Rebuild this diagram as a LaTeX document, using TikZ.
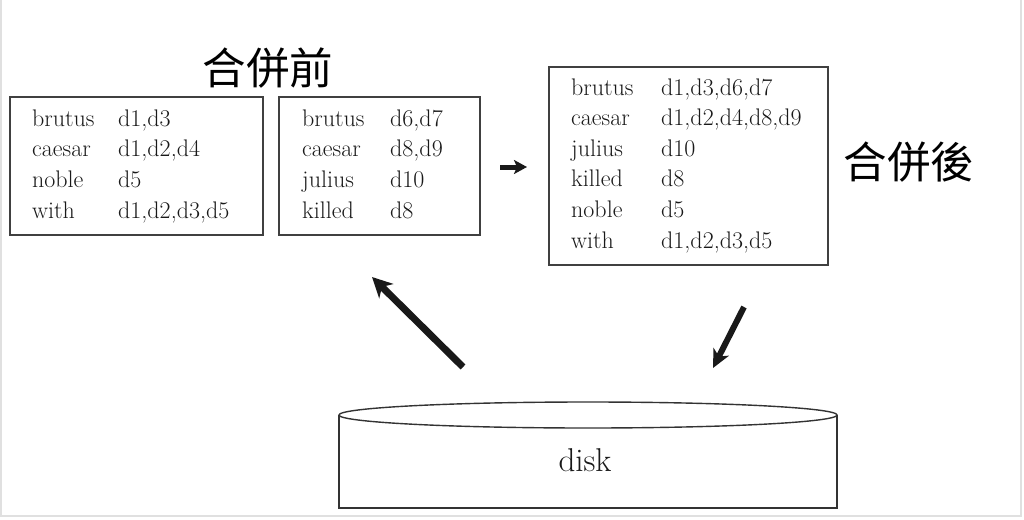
\documentclass[tikz,border=0pt]{standalone}
\usepackage{fontspec}
\newfontfamily\cjk{Noto Sans CJK TC}
\usetikzlibrary{arrows.meta}
\begin{document}
\begin{tikzpicture}[x=1pt,y=-1pt,
  box/.style={draw=black!75,line width=1.4pt},
  word/.style={anchor=base west,inner sep=0pt,font=\fontsize{24}{28}\selectfont,text=black!90},
  title/.style={font=\cjk\fontsize{43.5}{46}\selectfont,inner sep=0pt},
  bigarrow/.style={line width=7pt,black!90,-{Stealth[length=20pt,width=20pt,inset=6pt]}},
  smallarrow/.style={line width=5pt,black!90,-{Stealth[length=13pt,width=14pt,inset=3pt]}},
  frame/.style={draw=black!12,line width=2pt}]
\useasboundingbox (0,0) rectangle (1024,519);
\draw[frame] (1,0) -- (1,516) -- (1021,516) -- (1021,0);
% titles
\node[title] (before) at (268,68) {合併前};
\node[title] (after) at (909,162) {合併後};
% box 1
\node[box,minimum width=253pt,minimum height=138pt,inner sep=0pt] (b1) at (136.5,166) {};
\foreach \w/\d [count=\i] in {brutus/{d1,d3},caesar/{d1,d2,d4},noble/d5,with/{d1,d2,d3,d5}}
  {\node[word] (b1w\i) at (32,{126+30.7*(\i-1)}) {\w};
   \node[word] (b1d\i) at (118,{126+30.7*(\i-1)}) {\d};}
% box 2
\node[box,minimum width=201pt,minimum height=138pt,inner sep=0pt] (b2) at (379.5,166) {};
\foreach \w/\d [count=\i] in {brutus/{d6,d7},caesar/{d8,d9},julius/d10,killed/d8}
  {\node[word] (b2w\i) at (302,{126+30.7*(\i-1)}) {\w};
   \node[word] (b2d\i) at (390,{126+30.7*(\i-1)}) {\d};}
% box 3
\node[box,minimum width=279pt,minimum height=198pt,inner sep=0pt] (b3) at (688.5,166) {};
\foreach \w/\d [count=\i] in {brutus/{d1,d3,d6,d7},caesar/{d1,d2,d4,d8,d9},julius/d10,killed/d8,noble/d5,with/{d1,d2,d3,d5}}
  {\node[word] (b3w\i) at (571,{95+30.6*(\i-1)}) {\w};
   \node[word] (b3d\i) at (661,{95+30.6*(\i-1)}) {\d};}
% disk
\coordinate (dl) at (339,415);
\coordinate (dr) at (837,415);
\draw[line width=1.4pt,black!80] (dl) -- (339,508) -- (837,508) -- (dr);
\draw[line width=1.4pt,black!80] (588,415) ellipse [x radius=249pt,y radius=13pt];
\node[font=\fontsize{33}{36}\selectfont,text=black!90,anchor=base] (disk) at (585,471) {disk};
% arrows
\coordinate (m1) at (500,167);
\coordinate (m2) at (527,167);
\draw[smallarrow] (m1) -- (m2);
\coordinate (u1) at (463,367);
\coordinate (u2) at (372,277);
\draw[bigarrow] (u1) -- (u2);
\coordinate (r1) at (744,307);
\coordinate (r2) at (713,368);
\draw[line width=6pt,black!90,-{Stealth[length=18pt,width=17pt,inset=5pt]}] (r1) -- (r2);
\end{tikzpicture}
\end{document}
